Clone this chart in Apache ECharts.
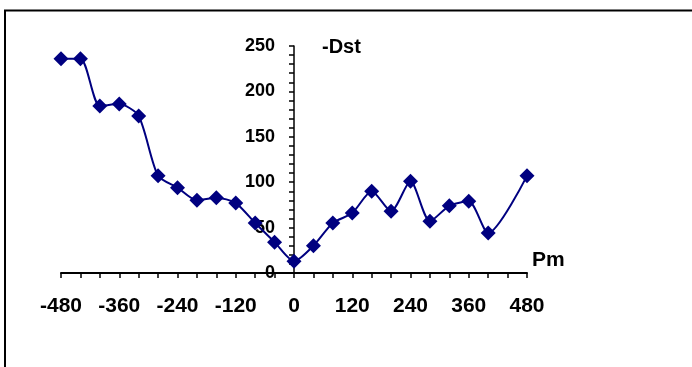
<!DOCTYPE html>
<html>
<head>
<meta charset="utf-8">
<script src="https://cdn.jsdelivr.net/npm/echarts@6/dist/echarts.min.js"></script>
<style>
html,body{margin:0;padding:0;background:#fff;}
#chart{width:692px;height:367px;}
</style>
</head>
<body>
<div id="chart"></div>
<script>
var pmValues = [-480, -440, -400, -360, -320, -280, -240, -200, -160, -120, -80, -40, 0, 40, 80, 120, 160, 200, 240, 280, 320, 360, 400, 480];
var dstValues = [236, 236, 184, 186, 173, 107, 94, 80, 83, 77, 55, 34, 13, 30, 55, 66, 90, 68, 101, 57, 74, 79, 44, 107];
var xAxisName = 'Pm';
var yAxisName = '-Dst';

var FONT = "'Liberation Sans', Arial, sans-serif";
var chart = echarts.init(document.getElementById('chart'), null, {renderer: 'canvas'});
var seriesData = pmValues.map(function (x, i) { return [x, dstValues[i]]; });
var GRID_LEFT = 61;

chart.setOption({
  animation: false,
  backgroundColor: '#fff',
  grid: {left: GRID_LEFT, right: 165, top: 46, bottom: 94, containLabel: false},
  xAxis: {
    type: 'value', min: -480, max: 480, interval: 120,
    axisLine: {show: true, onZero: true, lineStyle: {color: '#000', width: 2}},
    axisTick: {show: true, length: 5, lineStyle: {color: '#000', width: 1.5}},
    minorTick: {show: true, splitNumber: 3, length: 5, lineStyle: {color: '#000', width: 1.5}},
    splitLine: {show: false},
    axisLabel: {margin: 23, color: '#000', fontFamily: FONT, fontWeight: 'bold', fontSize: 21}
  },
  yAxis: {
    type: 'value', min: 0, max: 250, interval: 50,
    axisLine: {show: true, onZero: false, lineStyle: {color: '#000', width: 1.5}},
    axisTick: {show: true, length: 5, lineStyle: {color: '#000', width: 1.5}},
    minorTick: {show: true, splitNumber: 5, length: 5, lineStyle: {color: '#000', width: 1.5}},
    splitLine: {show: false},
    axisLabel: {margin: 19, color: '#000', fontFamily: FONT, fontWeight: 'bold', fontSize: 18}
  },
  graphic: [
    {type: 'rect', shape: {x: 5, y: 10.5, width: 720, height: 420}, style: {fill: 'none', stroke: '#000', lineWidth: 2}, silent: true},
    {type: 'text', left: 322, top: 37, style: {text: yAxisName, font: 'bold 20px ' + FONT, fill: '#000'}},
    {type: 'text', left: 532, top: 250, style: {text: xAxisName, font: 'bold 21px ' + FONT, fill: '#000'}}
  ],
  series: [{
    type: 'line',
    data: seriesData,
    smooth: 0.25,
    symbol: 'diamond',
    symbolSize: 15,
    lineStyle: {color: '#000080', width: 2},
    itemStyle: {color: '#000080'}
  }]
});

// Move the y axis (line, ticks and labels) to x = 0 using the library's scale.
var zeroPx = chart.convertToPixel({xAxisIndex: 0}, 0);
chart.setOption({yAxis: {offset: -(zeroPx - GRID_LEFT)}});
</script>
</body>
</html>
